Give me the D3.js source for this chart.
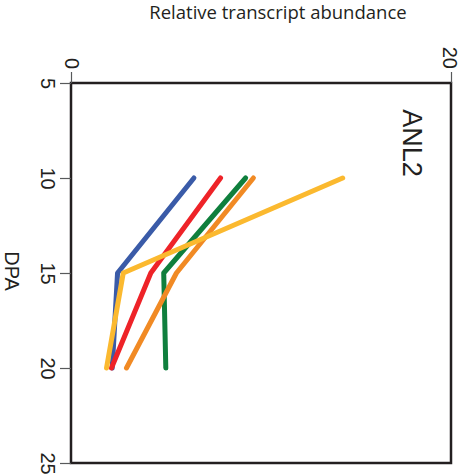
<!DOCTYPE html>
<html>
<head>
<meta charset="utf-8">
<script src="https://cdn.jsdelivr.net/npm/d3@7"></script>
<style>
  body { margin: 0; background: #fff; }
  svg { display: block; font-family: "Liberation Sans", Arial, sans-serif; }
</style>
</head>
<body>
<svg id="chart" width="460" height="476"></svg>
<script>
// DPA timepoints and relative abundance per series
const dpa = [10, 15, 20];
const blueVals = [6.47, 2.45, 2.17];
const redVals = [7.87, 4.2, 2.13];
const greenVals = [9.19, 4.88, 4.99];
const orangeVals = [9.6, 5.55, 2.92];
const yellowVals = [14.3, 2.75, 1.87];
const seriesColors = ['#3a5ba8', '#ee2328', '#0f7f3d', '#f18a24', '#fbb92f'];
const dpaTicks = [5, 10, 15, 20, 25];
const abundanceTicks = [0, 20];

(function() {
    'use strict';

    const svg = d3.select('#chart');
    const left = 71, right = 451, top = 83, bottom = 463;

    // abundance runs left->right, DPA runs top->bottom
    const x = d3.scaleLinear().domain([0, 20]).range([left, right]);
    const y = d3.scaleLinear().domain([5, 25]).range([top, bottom]);

    // Frame
    svg.append('rect')
        .attr('x', left).attr('y', top)
        .attr('width', right - left).attr('height', bottom - top)
        .attr('fill', 'none')
        .attr('stroke', '#231f20')
        .attr('stroke-width', 2.5);

    // Left axis (DPA)
    const yAxis = svg.append('g')
        .attr('transform', `translate(${left},0)`)
        .call(d3.axisLeft(y).tickValues(dpaTicks).tickSize(11).tickSizeOuter(0));
    yAxis.select('.domain').remove();
    yAxis.selectAll('line').attr('stroke', '#58595b').attr('stroke-width', 1.2);
    yAxis.selectAll('text')
        .attr('x', null).attr('dy', null)
        .attr('transform', 'translate(-23,0) rotate(90)')
        .attr('text-anchor', 'middle')
        .attr('dy', '0.35em')
        .style('font-size', '20px')
        .style('fill', '#231f20');

    // Top axis (abundance); last label nudged so it stays on the page
    const xAxis = svg.append('g')
        .attr('transform', `translate(0,${top})`)
        .call(d3.axisTop(x).tickValues(abundanceTicks).tickSize(11).tickSizeOuter(0));
    xAxis.select('.domain').remove();
    xAxis.selectAll('line').attr('stroke', '#58595b').attr('stroke-width', 1.2);
    xAxis.selectAll('text')
        .attr('y', null).attr('dy', null)
        .attr('transform', (d, i) => `translate(${i === abundanceTicks.length - 1 ? -2 : 0},-14) rotate(90)`)
        .attr('text-anchor', 'end')
        .attr('dy', '0.35em')
        .style('font-size', '20px')
        .style('fill', '#231f20');

    // Lines
    const seriesList = [blueVals, redVals, greenVals, orangeVals, yellowVals];
    const line = d3.line()
        .x((d, i) => x(d))
        .y((d, i) => y(dpa[i]));

    svg.append('g')
        .selectAll('path')
        .data(seriesList)
        .enter()
        .append('path')
        .attr('d', line)
        .attr('fill', 'none')
        .attr('stroke', (d, i) => seriesColors[i])
        .attr('stroke-width', 5)
        .attr('stroke-linecap', 'round')
        .attr('stroke-linejoin', 'round');

    // Titles
    svg.append('text')
        .attr('x', 278).attr('y', 19)
        .attr('text-anchor', 'middle')
        .style('font-family', '"Open Sans", sans-serif')
        .style('font-size', '18.5px')
        .style('fill', '#231f20')
        .text('Relative transcript abundance');

    svg.append('text')
        .attr('transform', 'translate(12,271) rotate(90)')
        .attr('text-anchor', 'middle')
        .attr('dy', '0.35em')
        .style('font-size', '20px')
        .style('fill', '#231f20')
        .text('DPA');

    svg.append('text')
        .attr('transform', 'translate(412.5,143) rotate(90)')
        .attr('text-anchor', 'middle')
        .attr('dy', '0.35em')
        .style('font-size', '27px')
        .style('fill', '#231f20')
        .text('ANL2');
})();
</script>
</body>
</html>
